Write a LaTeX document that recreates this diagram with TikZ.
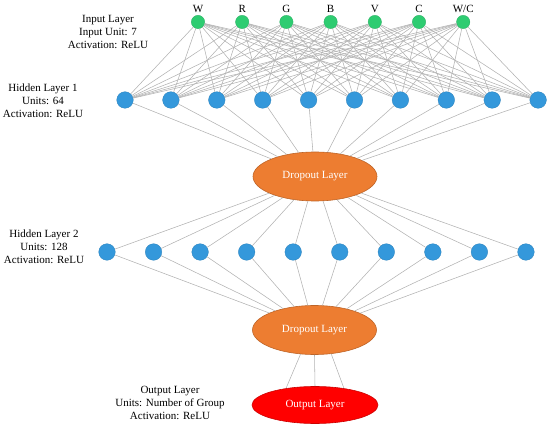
\documentclass[tikz,border=0pt]{standalone}
\usepackage{fontspec}
\setmainfont{Liberation Serif}
\usetikzlibrary{shapes.geometric}
\definecolor{ingreen}{RGB}{46,204,113}
\definecolor{hidblue}{RGB}{52,152,219}
\definecolor{droporange}{RGB}{237,125,49}
\definecolor{linegray}{RGB}{178,178,178}

\begin{document}
\begin{tikzpicture}[x=1pt, y=-1pt, font=\fontsize{11}{13}\selectfont,
    inunit/.style={circle, fill=ingreen, draw=ingreen!85!black, line width=0.3pt, inner sep=0pt, minimum size=13.4pt},
    hidunit/.style={circle, fill=hidblue, draw=hidblue!85!black, line width=0.3pt, inner sep=0pt, minimum size=16.6pt},
    droplayer/.style={ellipse, fill=droporange, draw=droporange!80!black, line width=0.6pt, text=white, inner sep=0pt, minimum width=124pt, minimum height=49pt},
    outlayer/.style={ellipse, fill=red, draw=red!80!black, line width=0.6pt, text=white, inner sep=0pt, minimum width=126pt, minimum height=37pt},
    conn/.style={draw=linegray, line width=0.55pt},
    info/.style={align=center, inner sep=0pt}]
    \useasboundingbox (0,0) rectangle (550,425);

    \foreach \lab [count=\i] in {W,R,G,B,V,C,W/C} {\node[inunit, label={[label distance=1pt, inner sep=1pt]above:\lab}] (in\i) at ({198+44.2*(\i-1)},22) {};}
    \foreach \i in {1,...,10} {\node[hidunit] (ha\i) at ({125+45.9*(\i-1)},100) {};}
    \foreach \i in {1,...,10} {\node[hidunit] (hb\i) at ({107+46.55*(\i-1)},252) {};}

    \node[droplayer] (dropa) at (315,176.5) {Dropout Layer};
    \node[droplayer] (dropb) at (314.5,330) {Dropout Layer};
    \node[outlayer]  (outl)  at (315,405) {Output Layer};

    \foreach \i in {1,...,7} {\foreach \j in {1,...,10} {\draw[conn] (in\i) -- (ha\j);}}
    \foreach \j in {1,...,10} {\draw[conn] (ha\j) -- (dropa); \draw[conn] (dropa) -- (hb\j); \draw[conn] (hb\j) -- (dropb);}
    \draw[conn] (dropb.240) -- (outl.150);
    \draw[conn] (dropb.270) -- (outl.90);
    \draw[conn] (dropb.305) -- (outl.30);

    \node[info] (inlab)  at (108,32)  {Input Layer\\Input Unit: 7\\Activation: ReLU};
    \node[info] (halab)  at (43,101)  {Hidden Layer 1\\Units: 64\\Activation: ReLU};
    \node[info] (hblab)  at (44,247)  {Hidden Layer 2\\Units: 128\\Activation: ReLU};
    \node[info] (outlab) at (170,403) {Output Layer\\Units: Number of Group\\Activation: ReLU};
\end{tikzpicture}
\end{document}
